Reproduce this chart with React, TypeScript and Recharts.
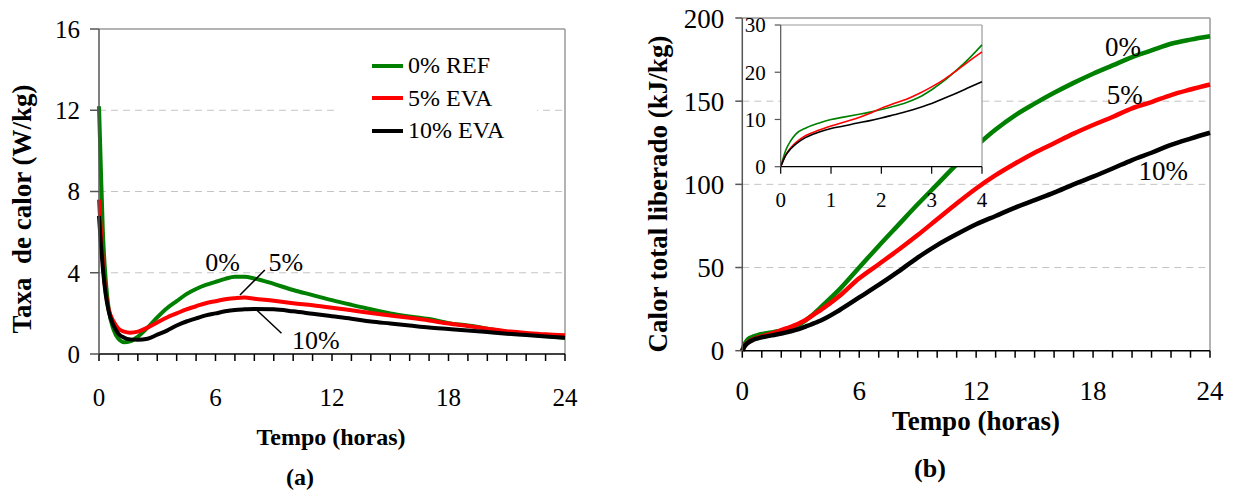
import {
  CartesianGrid,
  Legend,
  Line,
  LineChart,
  ReferenceDot,
  ReferenceLine,
  XAxis,
  YAxis,
} from "recharts";

const FONT = "'Liberation Serif', 'Times New Roman', serif";
const GREEN = "#008000";
const RED = "#ff0000";
const BLACK = "#000000";
const BORDER = "#9a9a9a";
const GRID = "#c4c4c4";

// (a) heat flow rate, W/kg
const rateHours = [
  0, 0.1, 0.2, 0.35, 0.5, 0.75, 1, 1.3, 1.6, 2, 2.5, 3, 3.5, 4, 4.5, 5, 5.5, 6,
  6.5, 7, 7.5, 8, 9, 10, 11, 12, 13, 14, 15, 16, 17, 18, 19, 20, 21, 22, 23, 24,
];
const rateRef = [
  12.2, 9.0, 6.0, 3.6, 2.2, 1.2, 0.75, 0.58, 0.62, 0.85, 1.3, 1.8, 2.25, 2.6,
  2.95, 3.2, 3.4, 3.55, 3.7, 3.8, 3.8, 3.72, 3.45, 3.15, 2.9, 2.65, 2.42, 2.2,
  2.0, 1.85, 1.72, 1.52, 1.4, 1.25, 1.08, 0.98, 0.88, 0.8,
];
const rateEva5 = [
  7.6, 6.0, 4.5, 3.0, 2.2, 1.6, 1.25, 1.1, 1.05, 1.1, 1.3, 1.55, 1.8, 2.0, 2.2,
  2.35, 2.5, 2.6, 2.7, 2.75, 2.78, 2.72, 2.62, 2.5, 2.4, 2.28, 2.15, 2.02, 1.9,
  1.78, 1.65, 1.5, 1.38, 1.25, 1.12, 1.04, 0.97, 0.92,
];
const rateEva10 = [
  6.8, 5.4, 4.2, 2.9, 2.1, 1.4, 1.0, 0.8, 0.72, 0.7, 0.75, 0.95, 1.15, 1.4, 1.6,
  1.75, 1.9, 2.0, 2.1, 2.17, 2.2, 2.22, 2.2, 2.1, 1.98, 1.86, 1.74, 1.6, 1.5,
  1.4, 1.3, 1.23, 1.16, 1.08, 1.0, 0.93, 0.86, 0.8,
];

// (b) total heat released, kJ/kg
const heatHours = [
  0, 0.1, 0.2, 0.3, 0.5, 0.75, 1, 1.25, 1.5, 1.75, 2, 2.25, 2.5, 2.75, 3, 3.25,
  3.5, 3.75, 4, 5, 6, 7, 8, 9, 10, 11, 12, 13, 14, 15, 16, 17, 18, 19, 20, 21,
  22, 23, 24,
];
const heatRef = [
  0, 3.5, 5.5, 6.9, 8.2, 9.2, 10.0, 10.5, 11.0, 11.5, 12.1, 12.8, 13.6, 14.7,
  16.3, 18.2, 20.5, 23.0, 25.8, 37, 50, 63, 75.5, 88, 100, 112, 123, 133, 141.5,
  148.5, 155, 161, 166.5, 171.5, 176.5, 180.5, 184.5, 187, 189,
];
const heatEva5 = [
  0, 2.5, 4.0, 5.1, 6.6, 7.7, 8.6, 9.4, 10.2, 11.2, 12.4, 13.4, 14.3, 15.5,
  16.9, 18.5, 20.4, 22.4, 24.3, 33, 43.5, 52, 60.5, 69.5, 79, 88.5, 97.5, 105.5,
  112.5, 119, 124.7, 130.5, 135.7, 140.5, 145.7, 149.5, 153.7, 157, 160,
];
const heatEva10 = [
  0, 2.4, 3.8, 4.8, 6.2, 7.3, 8.1, 8.6, 9.2, 9.7, 10.3, 11.0, 11.7, 12.5, 13.4,
  14.5, 15.6, 16.8, 18.0, 24.5, 32, 39.5, 47.5, 56, 63.5, 70, 76, 81, 86, 90.5,
  95, 100, 104.6, 109.5, 114.6, 119, 123.7, 127.5, 131,
];

const seriesNames = ["0% REF", "5% EVA", "10% EVA"];
const seriesColors = [GREEN, RED, BLACK];

const hourTicks = [
  0, 1, 2, 3, 4, 5, 6, 7, 8, 9, 10, 11, 12, 13, 14, 15, 16, 17, 18, 19, 20, 21,
  22, 23, 24,
];
const rateTicks = [0, 4, 8, 12, 16];
const heatTicks = [0, 50, 100, 150, 200];
const insetHourTicks = [0, 1, 2, 3, 4];
const insetHeatTicks = [0, 10, 20, 30];

const rateData = rateHours.map((t, i) => ({
  t,
  ref: rateRef[i],
  eva5: rateEva5[i],
  eva10: rateEva10[i],
}));
const heatData = heatHours.map((t, i) => ({
  t,
  ref: heatRef[i],
  eva5: heatEva5[i],
  eva10: heatEva10[i],
}));
const insetData = heatData.filter((row) => row.t <= 4);

const majorOnly = (v: number) => (v % 6 === 0 ? String(v) : "");

function RateLegend() {
  return (
    <div style={{ background: "#fff", paddingLeft: 37 }}>
      {seriesNames.map((name, i) => (
        <div
          key={name}
          style={{
            display: "flex",
            alignItems: "center",
            height: 32.5,
            fontFamily: FONT,
            fontSize: 24,
            color: "#000",
          }}
        >
          <span
            style={{
              display: "inline-block",
              width: 31,
              height: 4,
              background: seriesColors[i],
              marginRight: 5,
            }}
          />
          <span>{name}</span>
        </div>
      ))}
    </div>
  );
}

function Title({
  x,
  y,
  size,
  rotate,
  children,
}: {
  x: number;
  y: number;
  size: number;
  rotate?: boolean;
  children: string;
}) {
  return (
    <div
      style={{
        position: "absolute",
        left: x,
        top: y,
        transform: `translate(-50%, -50%)${rotate ? " rotate(-90deg)" : ""}`,
        fontFamily: FONT,
        fontWeight: "bold",
        fontSize: size,
        lineHeight: 1,
        whiteSpace: "pre",
        color: "#000",
      }}
    >
      {children}
    </div>
  );
}

const pctLabel = (value: string, size: number) => ({
  value,
  position: "center" as const,
  fontSize: size,
  fontFamily: FONT,
  fill: "#000",
});

export default function App() {
  return (
    <div
      style={{
        position: "absolute",
        left: 0,
        top: 0,
        width: 1238,
        height: 490,
        background: "#fff",
        fontFamily: FONT,
      }}
    >
      {/* (a) heat flow */}
      <div style={{ position: "absolute", left: 0, top: 0 }}>
        <LineChart
          width={600}
          height={490}
          data={rateData}
          margin={{ top: 29, right: 35, bottom: 76, left: 39 }}
          style={{ fontFamily: FONT }}
        >
          <CartesianGrid
            vertical={false}
            horizontalValues={[4, 8, 12]}
            stroke={GRID}
            strokeDasharray="7 5"
          />
          <XAxis
            dataKey="t"
            type="number"
            domain={[0, 24]}
            ticks={hourTicks}
            interval={0}
            tickFormatter={majorOnly}
            stroke={BLACK}
            strokeWidth={1.5}
            tickSize={7}
            tickMargin={27}
            height={60}
            tick={{ fill: "#000", fontSize: 25, fontFamily: FONT }}
          />
          <YAxis
            type="number"
            domain={[0, 16]}
            ticks={rateTicks}
            interval={0}
            width={60}
            stroke="#555"
            strokeWidth={1.5}
            tickSize={9}
            tickMargin={10}
            tick={{ fill: "#000", fontSize: 25, fontFamily: FONT }}
          />
          <ReferenceLine y={16} stroke={BORDER} strokeWidth={1.5} />
          <ReferenceLine x={24} stroke={BORDER} strokeWidth={1.5} />
          <Legend
            layout="vertical"
            align="center"
            verticalAlign="middle"
            content={RateLegend}
            wrapperStyle={{ left: 335, top: 49.5, width: 202 }}
          />
          <Line
            type="monotone"
            dataKey="ref"
            name={seriesNames[0]}
            stroke={GREEN}
            strokeWidth={4}
            dot={false}
            isAnimationActive={false}
          />
          <Line
            type="monotone"
            dataKey="eva5"
            name={seriesNames[1]}
            stroke={RED}
            strokeWidth={4}
            dot={false}
            isAnimationActive={false}
          />
          <Line
            type="monotone"
            dataKey="eva10"
            name={seriesNames[2]}
            stroke={BLACK}
            strokeWidth={4}
            dot={false}
            isAnimationActive={false}
          />
          <ReferenceLine
            segment={[
              { x: 8.54, y: 4.14 },
              { x: 7.26, y: 2.9 },
            ]}
            stroke={BLACK}
            strokeWidth={1.5}
          />
          <ReferenceLine
            segment={[
              { x: 8.12, y: 2.17 },
              { x: 9.4, y: 1.02 },
            ]}
            stroke={BLACK}
            strokeWidth={1.5}
          />
          <ReferenceDot x={6.37} y={4.53} r={0} fill="none" stroke="none" label={pctLabel("0%", 26)} />
          <ReferenceDot x={9.62} y={4.53} r={0} fill="none" stroke="none" label={pctLabel("5%", 26)} />
          <ReferenceDot x={11.17} y={0.69} r={0} fill="none" stroke="none" label={pctLabel("10%", 26)} />
        </LineChart>
      </div>

      <Title x={22} y={209} size={27} rotate>
        {"Taxa  de calor (W/kg)"}
      </Title>
      <Title x={331} y={437} size={24}>
        Tempo (horas)
      </Title>
      <Title x={300} y={477} size={24}>
        (a)
      </Title>

      {/* (b) total heat */}
      <div style={{ position: "absolute", left: 620, top: 0 }}>
        <LineChart
          width={618}
          height={490}
          data={heatData}
          margin={{ top: 18, right: 28, bottom: 79.3, left: 62.3 }}
          style={{ fontFamily: FONT }}
        >
          <CartesianGrid
            vertical={false}
            horizontalValues={[50, 100, 150]}
            stroke={GRID}
            strokeDasharray="7 5"
          />
          <XAxis
            dataKey="t"
            type="number"
            domain={[0, 24]}
            ticks={hourTicks}
            interval={0}
            tickFormatter={majorOnly}
            stroke={BLACK}
            strokeWidth={1.5}
            tickSize={7}
            tickMargin={23}
            height={60}
            tick={{ fill: "#000", fontSize: 27, fontFamily: FONT }}
          />
          <YAxis
            type="number"
            domain={[0, 200]}
            ticks={heatTicks}
            interval={0}
            width={60}
            stroke="#555"
            strokeWidth={1.5}
            tickSize={7}
            tickMargin={11}
            tick={{ fill: "#000", fontSize: 27, fontFamily: FONT }}
          />
          <ReferenceLine y={200} stroke={BORDER} strokeWidth={1.5} />
          <ReferenceLine x={24} stroke={BORDER} strokeWidth={1.5} />
          <Line type="monotone" dataKey="ref" stroke={GREEN} strokeWidth={4.5} dot={false} isAnimationActive={false} />
          <Line type="monotone" dataKey="eva5" stroke={RED} strokeWidth={4.5} dot={false} isAnimationActive={false} />
          <Line type="monotone" dataKey="eva10" stroke={BLACK} strokeWidth={4.5} dot={false} isAnimationActive={false} />
          <ReferenceDot x={19.53} y={182.7} r={0} fill="none" stroke="none" label={pctLabel("0%", 27)} />
          <ReferenceDot x={19.62} y={153.9} r={0} fill="none" stroke="none" label={pctLabel("5%", 27)} />
          <ReferenceDot x={21.6} y={108.6} r={0} fill="none" stroke="none" label={pctLabel("10%", 27)} />
        </LineChart>
      </div>

      {/* inset: first 4 hours */}
      <div style={{ position: "absolute", left: 730, top: 5 }}>
        <LineChart
          width={270}
          height={210}
          data={insetData}
          margin={{ top: 20, right: 18, bottom: 8.3, left: 20.7 }}
          style={{ fontFamily: FONT }}
        >
          <CartesianGrid fill="#fff" horizontal={false} vertical={false} />
          <XAxis
            dataKey="t"
            type="number"
            domain={[0, 4]}
            ticks={insetHourTicks}
            interval={0}
            stroke={BLACK}
            strokeWidth={1.2}
            tickSize={7}
            tickMargin={18}
            height={40}
            tick={{ fill: "#000", fontSize: 21, fontFamily: FONT }}
          />
          <YAxis
            type="number"
            domain={[0, 30]}
            ticks={insetHeatTicks}
            interval={0}
            width={30}
            stroke="#555"
            strokeWidth={1.2}
            tickSize={6}
            tickMargin={9}
            tick={{ fill: "#000", fontSize: 21, fontFamily: FONT }}
          />
          <ReferenceLine y={30} stroke={BORDER} strokeWidth={1.2} />
          <ReferenceLine x={4} stroke={BORDER} strokeWidth={1.2} />
          <Line type="monotone" dataKey="ref" stroke={GREEN} strokeWidth={1.6} dot={false} isAnimationActive={false} />
          <Line type="monotone" dataKey="eva5" stroke={RED} strokeWidth={1.6} dot={false} isAnimationActive={false} />
          <Line type="monotone" dataKey="eva10" stroke={BLACK} strokeWidth={1.6} dot={false} isAnimationActive={false} />
        </LineChart>
      </div>

      <Title x={658} y={193.5} size={27} rotate>
        Calor total liberado (kJ/kg)
      </Title>
      <Title x={976} y={421} size={27}>
        Tempo (horas)
      </Title>
      <Title x={930} y={469} size={26}>
        (b)
      </Title>
    </div>
  );
}
